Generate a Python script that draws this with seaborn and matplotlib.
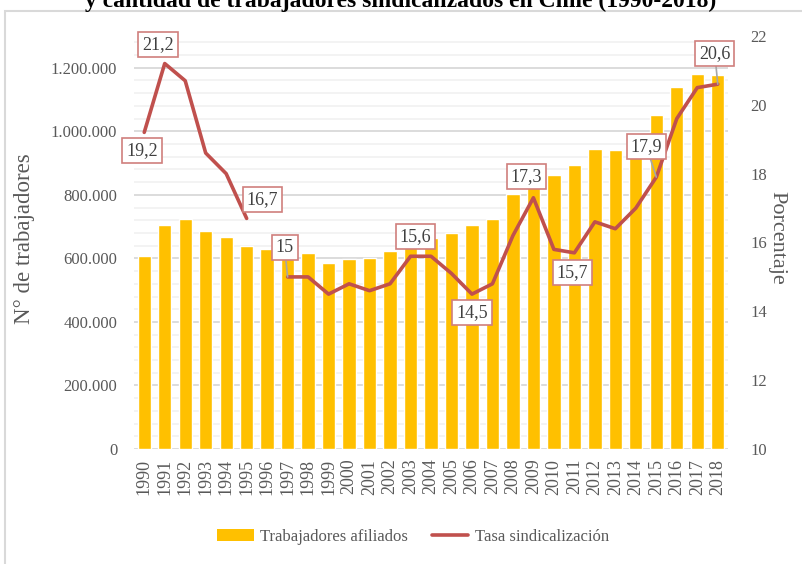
import numpy as np
import pandas as pd
import matplotlib
matplotlib.use("Agg")
import matplotlib.pyplot as plt
import seaborn as sns
from matplotlib.patches import Patch, Rectangle
from matplotlib.lines import Line2D
from matplotlib.ticker import FuncFormatter, MultipleLocator

# ---------------- data ----------------
years = [str(y) for y in range(1990, 2019)]
afiliados = [608000, 704000, 725000, 687000, 666000, 640000, 630000, 618000,
             616000, 584000, 597000, 601000, 624000, 645000, 665000, 681000,
             705000, 725000, 803000, 835000, 862000, 893000, 944000, 941000,
             950000, 1051000, 1141000, 1179000, 1176000]
tasa = [19.2, 21.2, 20.7, 18.6, 18.0, 16.7, np.nan, 15.0, 15.0, 14.5, 14.8,
        14.6, 14.8, 15.6, 15.6, 15.1, 14.5, 14.8, 16.2, 17.3, 15.8, 15.7,
        16.6, 16.4, 17.0, 17.9, 19.6, 20.5, 20.6]
labeled_years = ["1990", "1991", "1995", "1997", "2003", "2006", "2009",
                 "2011", "2015", "2018"]
title = "y cantidad de trabajadores sindicalizados en Chile (1990-2018)"
left_label = "N° de trabajadores"
right_label = "Porcentaje"
legend_labels = ["Trabajadores afiliados", "Tasa sindicalización"]

# ---------------- style ----------------
sns.set_style("white")
plt.rcParams["font.family"] = ["Liberation Serif", "DejaVu Serif"]

BAR = "#FFC000"
LINE = "#C0504D"
TICK = "#595959"

df = pd.DataFrame({"year": years, "afiliados": afiliados, "tasa": tasa})
df["pos"] = np.arange(len(df))
df["seg"] = df["tasa"].isna().cumsum()

fig = plt.figure(figsize=(8.02, 5.64), dpi=100)
ax = fig.add_axes([134 / 802, 1 - 449 / 564, 594 / 802, 413 / 564])

# frame around chart
fig.patches.append(Rectangle((5 / 802, -0.1), 1.2, (564 - 11) / 564 + 0.1,
                             transform=fig.transFigure, fill=False,
                             ec="#D9D9D9", lw=1.5, zorder=0))

sns.barplot(data=df, x="year", y="afiliados", color=BAR, width=0.65,
            saturation=1, ax=ax, zorder=3)
ax.set_ylim(0, 1300000)
ax.set_xlim(-0.5, len(years) - 0.5)
ax.yaxis.set_major_locator(MultipleLocator(200000))
ax.yaxis.set_minor_locator(MultipleLocator(40000))
ax.yaxis.set_major_formatter(FuncFormatter(lambda v, p: f"{int(v):,}".replace(",", ".")))
ax.grid(axis="y", which="major", color="#D9D9D9", lw=1.3, zorder=0)
ax.grid(axis="y", which="minor", color="#F0F0F0", lw=1.1, zorder=0)
ax.set_axisbelow(True)
for s in ax.spines.values():
    s.set_visible(False)
ax.tick_params(axis="y", which="both", length=0, labelsize=12, labelcolor=TICK, pad=12)
ax.tick_params(axis="x", length=0, labelsize=13, labelcolor=TICK, pad=7, labelrotation=90)
ax.set_xlabel("")
ax.set_ylabel(left_label, fontsize=16.5, color=TICK)
ax.yaxis.set_label_coords(-0.167, 0.51)

ax2 = ax.twinx()
sns.lineplot(data=df.dropna(), x="pos", y="tasa", units="seg", estimator=None,
             color=LINE, lw=2.6, ax=ax2, zorder=5)
ax2.set_ylim(10, 22)
ax2.yaxis.set_major_locator(MultipleLocator(2))
for s in ax2.spines.values():
    s.set_visible(False)
ax2.tick_params(axis="y", length=0, labelsize=12, labelcolor=TICK, pad=16)
ax2.set_xlabel("")
ax2.set_ylabel(right_label, fontsize=16, color=TICK, rotation=-90)
ax2.yaxis.set_label_coords(1.099, 0.51)
ax2.grid(False)

offsets = {"1990": (-2, -18, False), "1991": (-7, 19, False),
           "1995": (16, 19, False), "1997": (-3, 29, True),
           "2003": (5, 20, False), "2006": (0, -18, False),
           "2009": (-7, 21, False), "2011": (-2, -20, False),
           "2015": (-10, 31, True), "2018": (-3, 31, True)}
for yr in labeled_years:
    row = df[df["year"] == yr].iloc[0]
    dx, dy, leader = offsets[yr]
    txt = f"{row['tasa']:.1f}".replace(".", ",").replace(",0", "")
    kw = {}
    if leader:
        kw["arrowprops"] = dict(arrowstyle="-", color="#A6A6A6", lw=1.2,
                                shrinkA=0, shrinkB=0)
    ax2.annotate(txt, (row["pos"], row["tasa"]), xytext=(dx, dy),
                 textcoords="offset pixels", ha="center", va="center",
                 fontsize=13, color="#404040", zorder=10,
                 bbox=dict(boxstyle="square,pad=0.22", fc="white",
                           ec="#D07F7D", lw=1.2), **kw)

fig.text(0.5, 1 - 7 / 564, title, ha="center", va="baseline",
         fontsize=17, fontweight="bold", color="black")

handles = [Patch(facecolor=BAR, edgecolor="none"),
           Line2D([0], [0], color=LINE, lw=2.6)]
fig.legend(handles, legend_labels, loc="center", bbox_to_anchor=(0.515, 1 - 537 / 564),
           ncol=2, frameon=False, fontsize=12, handlelength=2.2,
           handletextpad=0.4, columnspacing=1.4, labelcolor=TICK)

fig.savefig("out.png", dpi=100)
